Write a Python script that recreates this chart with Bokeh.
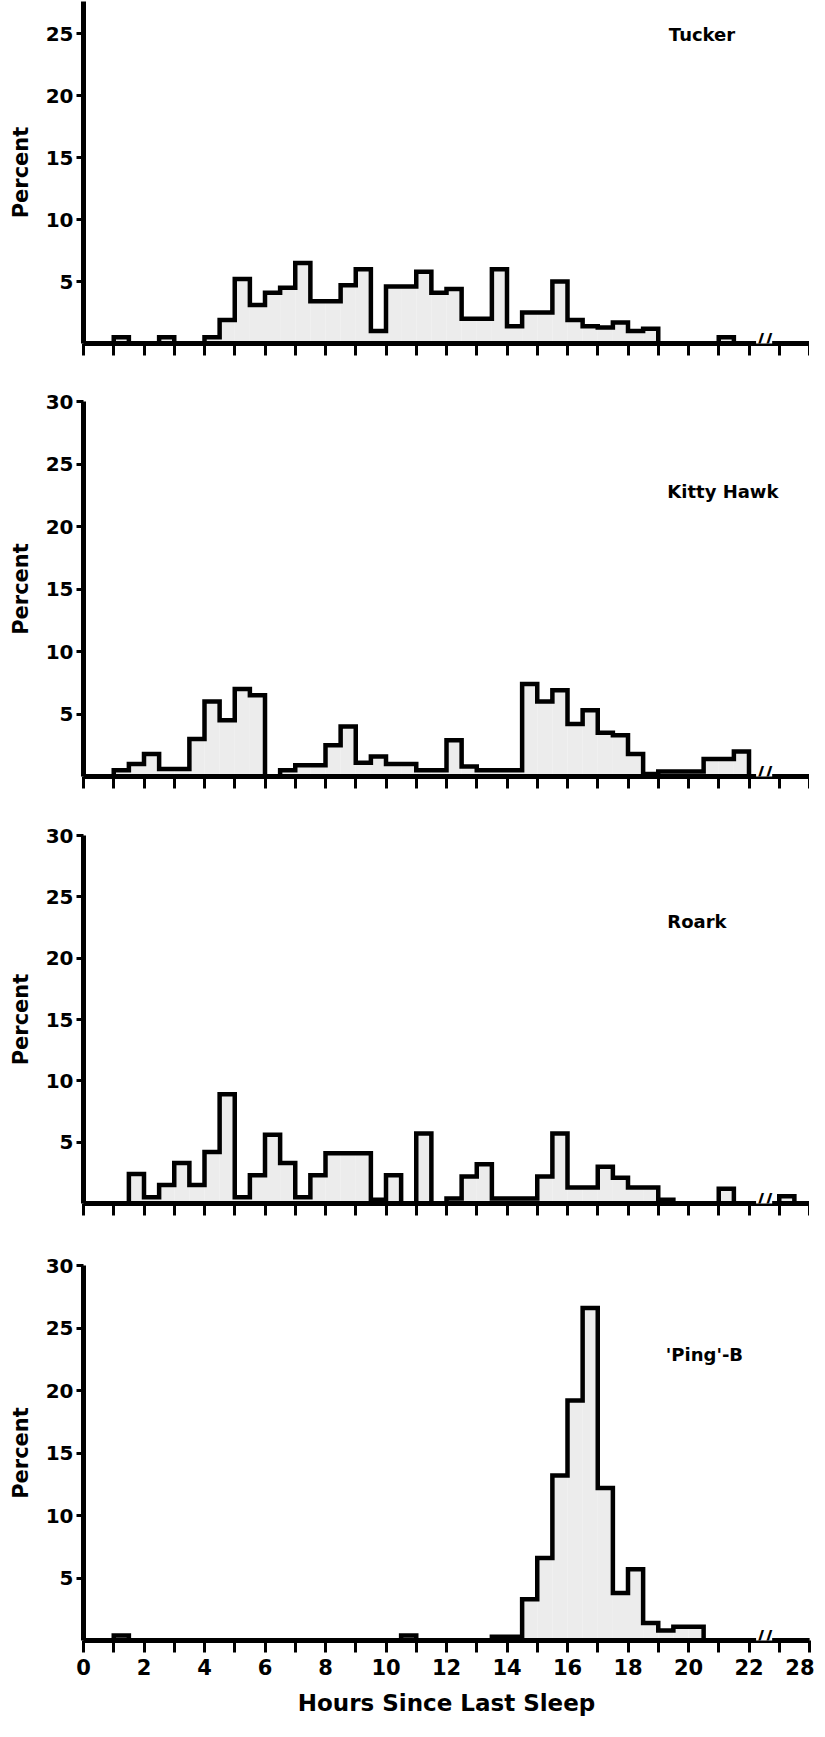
import numpy as np
from bokeh.plotting import figure
from bokeh.layouts import column
from bokeh.models import FixedTicker, Label, CustomLabelingPolicy
from bokeh.embed import file_html
from bokeh.resources import INLINE

# ---------------- data (percent of episodes per half-hour bin) ----------------
bin_width = 0.5
bin_starts = [i * bin_width for i in range(48)]      # plotted hours 0 .. 24 (axis break after 22; 24 is labelled 28)

tucker = [0, 0, 0.5, 0, 0, 0.5, 0, 0, 0.5, 1.9,
          5.2, 3.1, 4.1, 4.5, 6.5, 3.4, 3.4, 4.7, 6.0, 1.0,
          4.6, 4.6, 5.8, 4.1, 4.4, 2.0, 2.0, 6.0, 1.4, 2.5,
          2.5, 5.0, 1.9, 1.4, 1.3, 1.7, 1.0, 1.2, 0, 0,
          0, 0, 0.5, 0, 0, 0, 0, 0]

kitty_hawk = [0, 0, 0.5, 1.0, 1.8, 0.6, 0.6, 3.0, 6.0, 4.5,
              7.0, 6.5, 0, 0.5, 0.9, 0.9, 2.5, 4.0, 1.1, 1.6,
              1.0, 1.0, 0.5, 0.5, 2.9, 0.8, 0.5, 0.5, 0.5, 7.4,
              6.0, 6.9, 4.2, 5.3, 3.5, 3.3, 1.8, 0.2, 0.4, 0.4,
              0.4, 1.4, 1.4, 2.0, 0, 0, 0, 0]

roark = [0, 0, 0, 2.4, 0.5, 1.5, 3.3, 1.5, 4.2, 8.9,
         0.5, 2.3, 5.6, 3.3, 0.5, 2.3, 4.1, 4.1, 4.1, 0.3,
         2.3, 0, 5.7, 0, 0.4, 2.2, 3.2, 0.4, 0.4, 0.4,
         2.2, 5.7, 1.3, 1.3, 3.0, 2.1, 1.3, 1.3, 0.3, 0,
         0, 0, 1.2, 0, 0, 0, 0.6, 0]

ping_b = [0, 0, 0.4, 0, 0, 0, 0, 0, 0, 0,
          0, 0, 0, 0, 0, 0, 0, 0, 0, 0,
          0, 0.4, 0, 0, 0, 0, 0, 0.3, 0.3, 3.3,
          6.6, 13.2, 19.2, 26.6, 12.2, 3.8, 5.7, 1.4, 0.8, 1.1,
          1.1, 0, 0, 0, 0, 0, 0, 0]

panel_names = ["Tucker", "Kitty Hawk", "Roark", "'Ping'-B"]
panel_values = [tucker, kitty_hawk, roark, ping_b]
panel_ymax = [27.6, 30, 30, 30]
panel_yticks = [[5, 10, 15, 20, 25], [5, 10, 15, 20, 25, 30],
                [5, 10, 15, 20, 25, 30], [5, 10, 15, 20, 25, 30]]

x_major_ticks = list(range(0, 25, 2))
x_minor_ticks = list(range(1, 24, 2))
x_label_overrides = {24: "28"}
x_title = "Hours Since Last Sleep"
y_title = "Percent"

# ---------------- layout / style ----------------
FONT = "DejaVu Sans"
INK = "black"
frame_heights = [342, 375, 368, 375]
border_top = [1, 12, 12, 12]
border_bottom = [46, 47, 50, 81]
border_left = [83, 82, 80, 73]
FRAME_W = 726
name_pos = [(19.35, 24.9), (19.3, 22.8), (19.3, 23.0), (19.25, 22.9)]

hide_labels = CustomLabelingPolicy(code="""
    const n = indices.size
    for (let i = 0; i < n; i++) indices.unset(i)
    return indices
""")

figs = []
for k in range(4):
    last = (k == 3)
    vals = panel_values[k]
    p = figure(frame_width=FRAME_W, frame_height=frame_heights[k],
               min_border_left=border_left[k], min_border_right=809 - FRAME_W - border_left[k],
               min_border_top=border_top[k], min_border_bottom=border_bottom[k],
               x_range=(0, 24), y_range=(0, panel_ymax[k]),
               output_backend="svg", toolbar_location=None)
    p.outline_line_color = None
    p.xgrid.visible = False
    p.ygrid.visible = False

    rights = [b + bin_width for b in bin_starts]
    p.quad(left=bin_starts, right=rights, bottom=0, top=vals,
           fill_color="#ececec", line_color=None)
    p.step(x=bin_starts + [24], y=vals + [0], mode="after",
           line_color=INK, line_width=4.5, line_join="miter")

    # x axis
    xa = p.xaxis[0]
    xa.ticker = FixedTicker(ticks=x_major_ticks, minor_ticks=x_minor_ticks)
    xa.major_label_overrides = x_label_overrides
    xa.axis_line_width = 5
    xa.axis_line_color = INK
    xa.major_tick_line_color = INK
    xa.minor_tick_line_color = INK
    xa.major_tick_line_width = 3
    xa.minor_tick_line_width = 3
    xa.major_tick_out = 12
    xa.major_tick_in = 0
    xa.minor_tick_out = 12
    xa.minor_tick_in = 0
    xa.major_label_text_font = FONT
    xa.major_label_text_font_style = "bold"
    xa.major_label_text_color = INK
    xa.major_label_text_font_size = "21px"
    xa.major_label_standoff = 6
    if last:
        xa.axis_label = x_title
        xa.axis_label_text_font = FONT
        xa.axis_label_text_font_style = "bold"
        xa.axis_label_text_font_size = "23px"
        xa.axis_label_text_color = INK
        xa.axis_label_standoff = 12
    else:
        xa.major_label_policy = hide_labels

    # y axis
    ya = p.yaxis[0]
    ya.ticker = FixedTicker(ticks=panel_yticks[k], minor_ticks=[])
    ya.axis_line_width = 5
    ya.axis_line_color = INK
    ya.major_tick_line_color = INK
    ya.major_tick_line_width = 3
    ya.major_tick_out = 7
    ya.major_tick_in = 0
    ya.major_label_text_font = FONT
    ya.major_label_text_font_style = "bold"
    ya.major_label_text_color = INK
    ya.major_label_text_font_size = "20px"
    ya.major_label_standoff = 3
    ya.axis_label = y_title
    ya.axis_label_text_font = FONT
    ya.axis_label_text_font_style = "bold"
    ya.axis_label_text_font_size = "21px"
    ya.axis_label_text_color = INK
    ya.axis_label_standoff = 10

    # axis break mark
    p.add_layout(Label(x=22.5, y=0, y_offset=2, text="//", text_align="center",
                       text_baseline="middle", text_font=FONT,
                       text_font_style="bold", text_font_size="22px",
                       text_color=INK, background_fill_color="white"))

    # panel name
    nx, ny = name_pos[k]
    p.add_layout(Label(x=nx, y=ny, text=panel_names[k], text_align="left",
                       text_baseline="middle", text_font=FONT,
                       text_font_style="bold", text_font_size="18px",
                       text_color=INK))
    figs.append(p)

layout = column(*figs, spacing=0)
open("out.html", "w").write(file_html(layout, INLINE))
